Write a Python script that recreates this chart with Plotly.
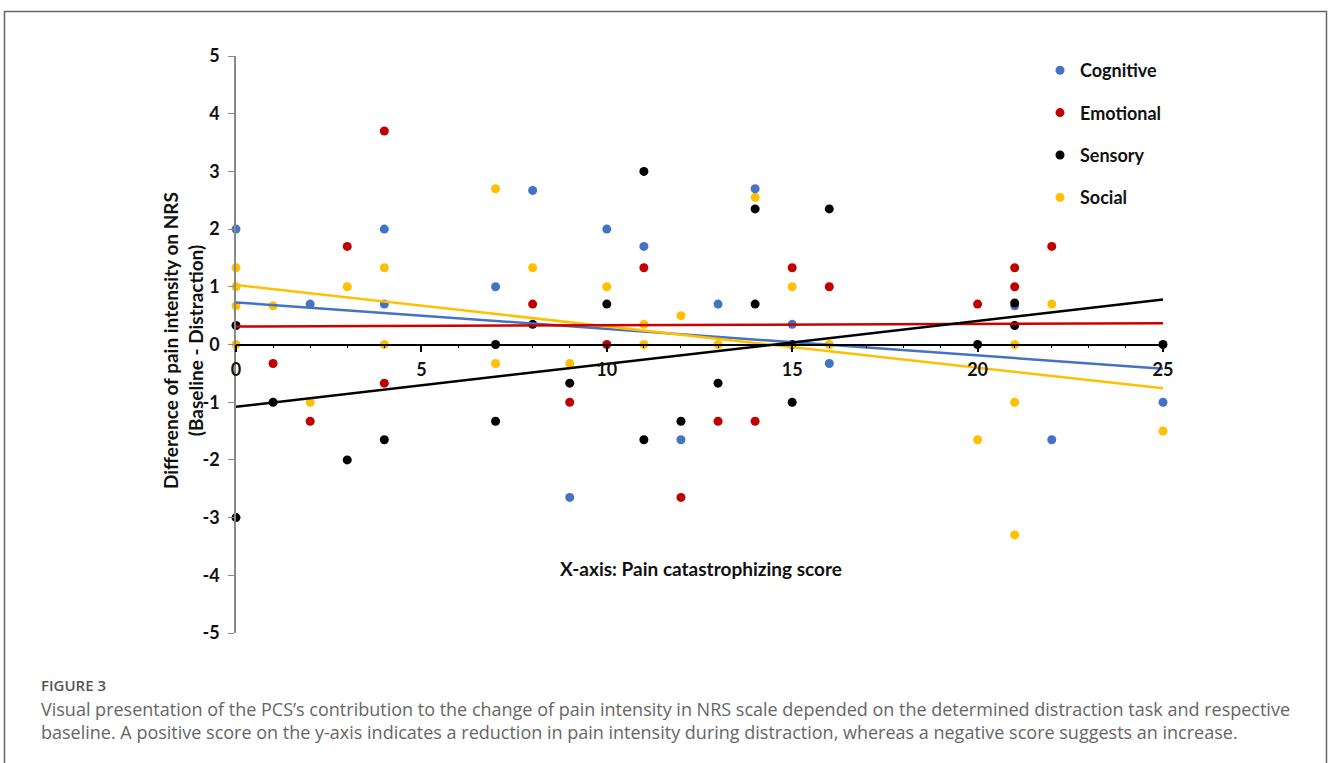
import plotly.graph_objects as go

# ---------------- data ----------------
cognitive_x = [0, 2, 4, 4, 7, 8, 9, 10, 11, 12, 13, 14, 15, 16, 21, 22, 25]
cognitive_y = [2.0, 0.7, 0.7, 2.0, 1.0, 2.67, -2.65, 2.0, 1.7, -1.65, 0.7, 2.7, 0.35, -0.33, 0.67, -1.65, -1.0]

emotional_x = [1, 2, 3, 4, 4, 8, 9, 10, 11, 12, 13, 14, 15, 16, 20, 21, 21, 22]
emotional_y = [-0.33, -1.33, 1.7, 3.7, -0.67, 0.7, -1.0, 0.0, 1.33, -2.65, -1.33, -1.33, 1.33, 1.0, 0.7, 1.0, 1.33, 1.7]

sensory_x = [0, 0, 1, 3, 4, 7, 7, 8, 9, 10, 11, 11, 12, 13, 14, 14, 15, 15, 16, 20, 21, 21, 25]
sensory_y = [0.33, -3.0, -1.0, -2.0, -1.65, 0.0, -1.33, 0.35, -0.67, 0.7, 3.0, -1.65, -1.33, -0.67, 2.35, 0.7, 0.0, -1.0, 2.35, 0.0, 0.72, 0.33, 0.0]

social_x = [0, 0, 0, 0, 1, 2, 3, 4, 4, 7, 7, 8, 9, 10, 11, 11, 12, 13, 14, 15, 16, 20, 21, 21, 21, 22, 25]
social_y = [1.33, 1.0, 0.67, 0.0, 0.67, -1.0, 1.0, 1.33, 0.0, 2.7, -0.33, 1.33, -0.33, 1.0, 0.35, 0.0, 0.5, 0.0, 2.55, 1.0, 0.0, -1.65, 0.0, -1.0, -3.3, 0.7, -1.5]

# linear trend lines (end values)
trend_x = [0, 25]
cognitive_trend = [0.73, -0.42]
emotional_trend = [0.31, 0.37]
sensory_trend = [-1.08, 0.78]
social_trend = [1.03, -0.76]

x_ticks = [0, 5, 10, 15, 20, 25]
y_ticks = [-5, -4, -3, -2, -1, 0, 1, 2, 3, 4, 5]

BLUE = "#4472C4"
RED = "#C00000"
BLACK = "#000000"
GOLD = "#FFC000"

# ---------------- layout geometry ----------------
W, H = 1328, 763
ML, MT = 236, 56
PW = 927.0   # 25 units
PH = 577.0   # 10 units
MR = W - ML - PW
MB = H - MT - PH


def px_x(p):
    return (p - ML) / PW


def px_y(p):
    return (MT + PH - p) / PH


fig = go.Figure()

series = [
    ("Social", social_x, social_y, GOLD, 4),
    ("Cognitive", cognitive_x, cognitive_y, BLUE, 1),
    ("Emotional", emotional_x, emotional_y, RED, 2),
    ("Sensory", sensory_x, sensory_y, BLACK, 3),
]
for name, xs, ys, col, rank in series:
    fig.add_trace(go.Scatter(
        x=xs, y=ys, mode="markers", name=name,
        marker=dict(color=col, size=9, line=dict(width=0)),
        cliponaxis=False, legendrank=rank, legendgroup=name,
    ))

trends = [
    (cognitive_trend, BLUE),
    (social_trend, GOLD),
    (emotional_trend, "#CC0000"),
    (sensory_trend, BLACK),
]
for ys, col in trends:
    fig.add_trace(go.Scatter(
        x=trend_x, y=ys, mode="lines", showlegend=False,
        line=dict(color=col, width=2.5), cliponaxis=False, hoverinfo="skip",
    ))

FONT = "Lato, Open Sans, sans-serif"
tick_font = dict(family=FONT, size=18, color="#111111", weight="bold")

fig.update_layout(
    width=W, height=H,
    margin=dict(l=ML, r=MR, t=MT, b=MB, autoexpand=False),
    paper_bgcolor="white", plot_bgcolor="white",
    showlegend=True,
    legend=dict(
        x=px_x(1040), y=px_y(52), xanchor="left", yanchor="top",
        font=dict(family=FONT, size=18, color="#111111", weight="bold"),
        tracegroupgap=16, bgcolor="rgba(0,0,0,0)", itemsizing="trace",
    ),
    xaxis=dict(
        range=[0, 25], anchor="free", position=0.5,
        showline=True, linecolor="#000000", linewidth=1.5,
        showgrid=False, zeroline=False,
        tickmode="array", tickvals=x_ticks, ticktext=[str(v) for v in x_ticks],
        ticks="outside", ticklen=7, tickwidth=1.5, tickcolor="#000000",
        minor=dict(dtick=1, ticks="outside", ticklen=3, tickwidth=1, tickcolor="#000000"),
        tickfont=tick_font, ticklabelstandoff=2,
    ),
    yaxis=dict(
        range=[-5, 5],
        showline=True, linecolor="#888888", linewidth=1.5,
        showgrid=False, zeroline=False,
        tickmode="array", tickvals=y_ticks, ticktext=[str(v) for v in y_ticks],
        ticks="outside", ticklen=6, tickwidth=1.2, tickcolor="#888888",
        tickfont=tick_font, ticklabelstandoff=5,
    ),
)

annotations = [
    dict(text="Difference of pain intensity on NRS<br>(Baseline - Distraction)",
         x=px_x(183), y=px_y(341), xref="paper", yref="paper",
         xanchor="center", yanchor="middle", textangle=-90, showarrow=False,
         font=dict(family=FONT, size=19, color="#111111", weight="bold")),
    dict(text="X-axis: Pain catastrophizing score",
         x=px_x(701), y=px_y(568), xref="paper", yref="paper",
         xanchor="center", yanchor="middle", showarrow=False,
         font=dict(family=FONT, size=19, color="#111111", weight="bold")),
    dict(text="FIGURE 3",
         x=px_x(39), y=px_y(685), xref="paper", yref="paper",
         xanchor="left", yanchor="middle", showarrow=False,
         font=dict(family="Open Sans, sans-serif", size=15, color="#555555", weight=600)),
    dict(text="Visual presentation of the PCS\u2019s contribution to the change of pain intensity in NRS scale depended on the determined distraction task and respective"
              "<br>baseline. A positive score on the y-axis indicates a reduction in pain intensity during distraction, whereas a negative score suggests an increase.",
         x=px_x(39), y=px_y(720), xref="paper", yref="paper",
         xanchor="left", yanchor="middle", align="left", showarrow=False,
         font=dict(family="Open Sans, sans-serif", size=18, color="#666666")),
]
fig.update_layout(annotations=annotations)

fig.add_shape(type="rect", xref="paper", yref="paper",
              x0=px_x(4.5), x1=px_x(1326.5), y0=px_y(11.5), y1=px_y(780),
              line=dict(color="#666666", width=1.5), fillcolor="rgba(0,0,0,0)", layer="below")

fig.write_html("out.html", config={"displayModeBar": False},
               post_script="document.body.style.margin='0';")
